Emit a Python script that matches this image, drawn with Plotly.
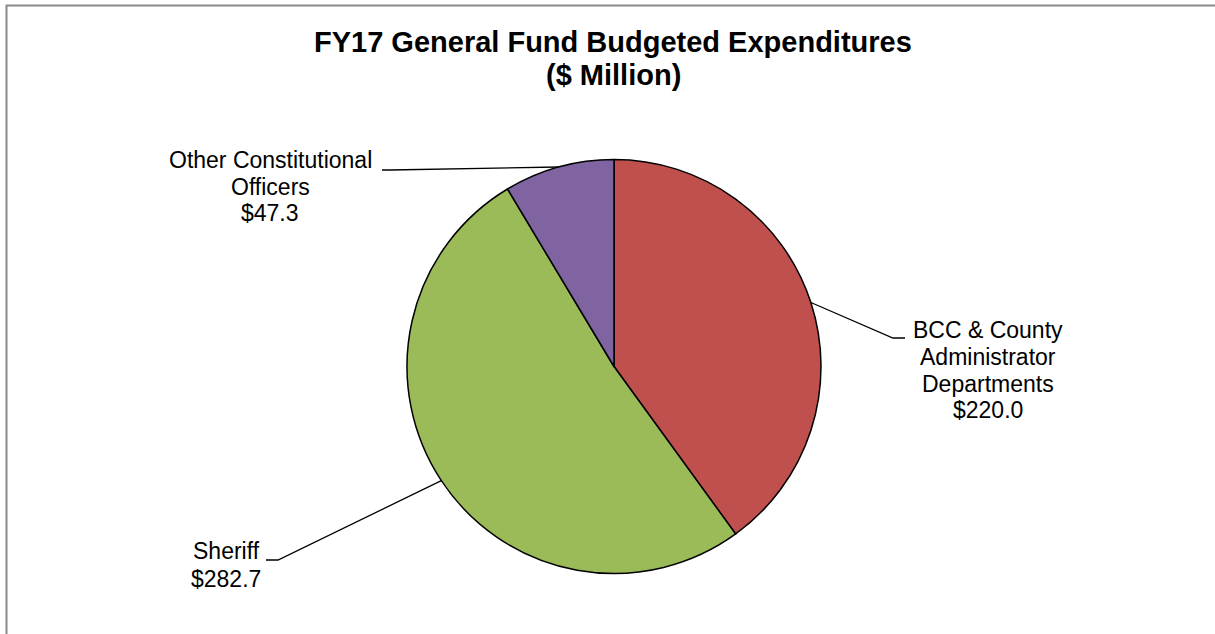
import math
import plotly.graph_objects as go

# FY17 general fund budgeted expenditures, $ million
categories = ["BCC & County Administrator Departments", "Sheriff", "Other Constitutional Officers"]
values = [220.0, 282.7, 47.3]
colors = ["#C0504D", "#9BBB59", "#8064A2"]
label_lines = [["BCC & County", "Administrator", "Departments"],
               ["Sheriff"],
               ["Other Constitutional", "Officers"]]

W, H = 1215, 634
cx, cy, r = 614, 366.5, 207

# label placement: (elbow x, elbow y, tail x, text center x, first line y, line gap)
label_layout = [
    (893, 338, 905, 988, 330, 26.8),
    (278, 560, 266, 226, 551, 28.0),
    (390, 170, 382, 270, 160, 26.6),
]
FONT = "Arial, Liberation Sans, sans-serif"

fig = go.Figure()
fig.add_trace(go.Pie(
    labels=categories, values=values, sort=False, direction="clockwise", rotation=0,
    marker=dict(colors=colors, line=dict(color="black", width=1.5)),
    textinfo="none", hoverinfo="label+value", showlegend=False,
    domain=dict(x=[(cx - r) / W, (cx + r) / W], y=[1 - (cy + r) / H, 1 - (cy - r) / H]),
))

shapes = [dict(type="rect", xref="x", yref="y", x0=6.5, y0=5.5, x1=W + 6, y1=H + 6,
               line=dict(color="#8a8a8a", width=2), layer="above")]
annotations = []

total = sum(values)
start = 0.0
for v, lines, (ex, ey, tx, lx, ly, gap) in zip(values, label_lines, label_layout):
    mid = start + v / total * 180.0
    start += v / total * 360.0
    a = math.radians(mid)
    px, py = cx + r * math.sin(a), cy - r * math.cos(a)
    shapes.append(dict(type="path", xref="x", yref="y",
                       path=f"M {px:.1f},{py:.1f} L {ex},{ey} L {tx},{ey}",
                       line=dict(color="black", width=1.3), layer="above"))
    for i, t in enumerate(lines + [f"${v:.1f}"]):
        annotations.append(dict(x=lx, y=ly + i * gap, xref="x", yref="y", text=t,
                                showarrow=False, xanchor="center", yanchor="middle",
                                font=dict(family=FONT, size=23, color="black")))

for i, t in enumerate(["FY17 General Fund Budgeted Expenditures", "($ Million)"]):
    annotations.append(dict(x=613, y=42 + i * 33, xref="x", yref="y", text=f"<b>{t}</b>",
                            showarrow=False, xanchor="center", yanchor="middle",
                            font=dict(family=FONT, size=29, color="black")))

fig.update_layout(
    width=W, height=H, margin=dict(l=0, r=0, t=0, b=0),
    paper_bgcolor="white", plot_bgcolor="rgba(0,0,0,0)",
    xaxis=dict(range=[0, W], visible=False, fixedrange=True),
    yaxis=dict(range=[H, 0], visible=False, fixedrange=True),
    shapes=shapes, annotations=annotations,
)
fig.write_html("out.html")
